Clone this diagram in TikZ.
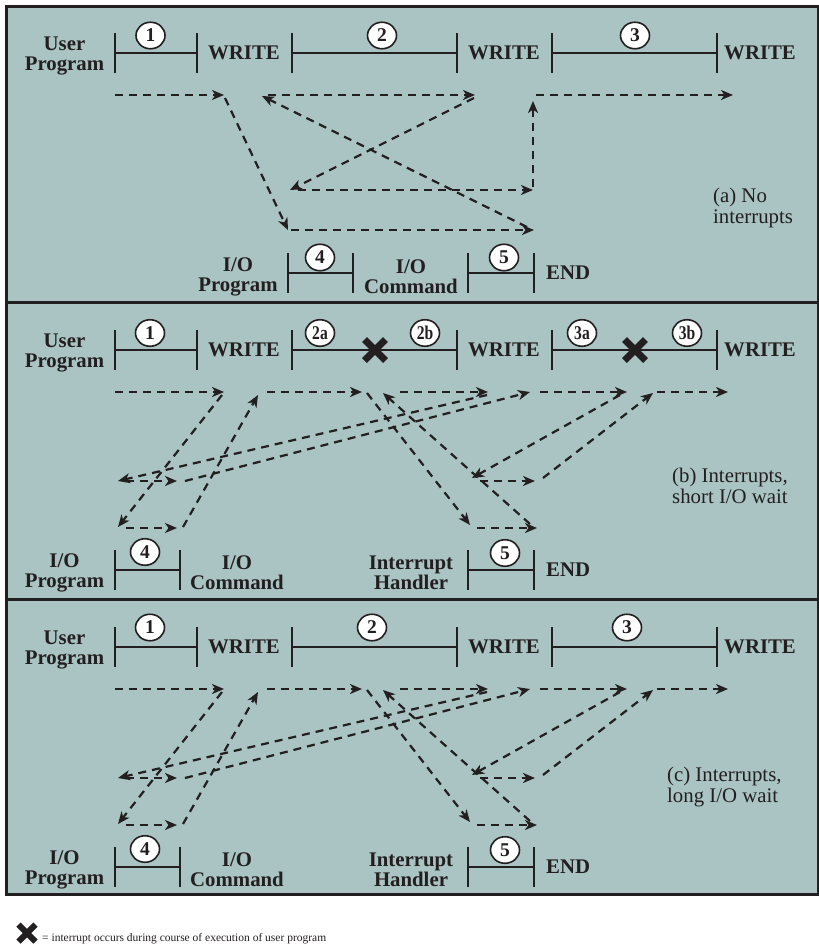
\documentclass[tikz,border=0pt]{standalone}
\usepackage{fontspec}
\setmainfont{Liberation Serif}
\usetikzlibrary{arrows.meta,shapes.geometric}

\definecolor{panelbg}{RGB}{169,196,194}
\definecolor{ink}{RGB}{35,31,32}

% bracketed time segment |----| : from x=#1 to x=#2 on the line y=#3
\newcommand\tlseg[3]{\draw[tl] (#1,#3-20) -- (#1,#3+20) (#1,#3) -- (#2,#3) (#2,#3-20) -- (#2,#3+20);}
% interrupt mark: centre (#1,#2), half size #3, stroke #4
\newcommand\intrmark[4]{\draw[xmark, line width=#4] (#1-#3,#2-#3) -- (#1+#3,#2+#3) (#1-#3,#2+#3) -- (#1+#3,#2-#3);}

\tikzset{
  frame/.style={draw=ink, line width=3pt},
  tl/.style={draw=ink, line width=2.3pt},
  flow/.style={draw=ink, line width=2.2pt, dash pattern=on 8pt off 6pt,
    -{Stealth[length=12pt,width=10pt,inset=3.5pt]}},
  lbl/.style={font=\bfseries\fontsize{20.8}{20}\selectfont, text=ink, align=center, inner sep=0pt},
  caption/.style={font=\fontsize{20.8}{21}\selectfont, text=ink, align=left, inner sep=0pt, anchor=west},
  num/.style={ellipse, draw=ink, fill=white, line width=1.6pt, minimum width=29pt,
    minimum height=26.5pt, inner sep=0pt, font=\bfseries\fontsize{19.5}{19.5}\selectfont, text=ink},
  xmark/.style={draw=ink, line cap=butt},
}

% control flow shared by the two interrupt-driven schedules
\newcommand\interruptflow{%
  \coordinate (s1) at (115,42);   \coordinate (e1) at (224,42);
  \coordinate (s2) at (222,45);   \coordinate (e2) at (118,177);
  \coordinate (s3) at (126,178);  \coordinate (e3) at (177,178);
  \coordinate (s4) at (183,177);  \coordinate (e4) at (258,45);
  \coordinate (s5) at (267,42);   \coordinate (e5) at (362,42);
  \coordinate (s6) at (367,43);   \coordinate (e6) at (470,175);
  \coordinate (s7) at (477,178);  \coordinate (e7) at (537,178);
  \coordinate (s8) at (530,174);  \coordinate (e8) at (383,43);
  \coordinate (s9) at (400,42);   \coordinate (e9) at (488,42);
  \coordinate (s10) at (487,45);  \coordinate (e10) at (118,131);
  \coordinate (s11) at (126,131); \coordinate (e11) at (177,131);
  \coordinate (s12) at (185,131); \coordinate (e12) at (530,42);
  \coordinate (s13) at (540,42);  \coordinate (e13) at (627,42);
  \coordinate (s14) at (620,45);  \coordinate (e14) at (472,128);
  \coordinate (s15) at (480,131); \coordinate (e15) at (535,131);
  \coordinate (s16) at (543,128); \coordinate (e16) at (653,43);
  \coordinate (s17) at (657,42);  \coordinate (e17) at (728,42);
  \foreach \k in {1,...,17} \draw[flow] (s\k) -- (e\k);
  % user program line
  \tlseg{115}{197}{0} \tlseg{292}{457}{0} \tlseg{552}{717}{0}
  \node[lbl] (user) at (64.5,3) {User\\Program};
  \node[lbl] (w1) at (244,0) {WRITE};
  \node[lbl] (w2) at (504,0) {WRITE};
  \node[lbl, anchor=west] (w3) at (724,0) {WRITE};
  % I/O program and interrupt handler line
  \tlseg{115}{180}{220} \tlseg{468}{534}{220}
  \node[lbl] (iop) at (64.5,223) {I/O\\Program};
  \node[lbl] (ioc) at (237,223) {I/O\\Command};
  \node[lbl] (ih) at (411,223) {Interrupt\\Handler};
  \node[lbl, anchor=west] (end) at (546,220) {END};
  \node[num] (n4) at (145,202) {4};
  \node[num] (n5) at (505,203) {5};
}

\begin{document}
\begin{tikzpicture}[x=1pt,y=-1pt]
\useasboundingbox (0,0) rectangle (819,946);
\fill[panelbg] (6.5,6.5) rectangle (818.5,894.5);
\draw[frame] (6.5,302) -- (818.5,302);
\draw[frame] (6.5,599) -- (818.5,599);
\draw[frame] (6.5,6.5) rectangle (818.5,894.5);

% (a) no interrupts
\begin{scope}[shift={(0,53)}, name prefix=a-]
  \coordinate (s1) at (115,42);  \coordinate (e1) at (224,42);
  \coordinate (s2) at (225,45);  \coordinate (e2) at (288,177);
  \coordinate (s3) at (291,177); \coordinate (e3) at (534,177);
  \coordinate (s4) at (527,174); \coordinate (e4) at (262,43);
  \coordinate (s5) at (268,42);  \coordinate (e5) at (475,42);
  \coordinate (s6) at (474,45);  \coordinate (e6) at (290,137);
  \coordinate (s7) at (298,137); \coordinate (e7) at (533,137);
  \coordinate (s8) at (533,134); \coordinate (e8) at (533,48);
  \coordinate (s9) at (536,42);  \coordinate (e9) at (733,42);
  \foreach \k in {1,...,9} \draw[flow] (s\k) -- (e\k);
  \tlseg{115}{197}{0} \tlseg{292}{457}{0} \tlseg{552}{717}{0}
  \node[lbl] (user) at (64.5,3) {User\\Program};
  \node[lbl] (w1) at (244,0) {WRITE};
  \node[lbl] (w2) at (504,0) {WRITE};
  \node[lbl, anchor=west] (w3) at (724,0) {WRITE};
  \node[num] (n1) at (150.5,-17.5) {1};
  \node[num] (n2) at (382,-17.5) {2};
  \node[num] (n3) at (635,-17.5) {3};
  \tlseg{288}{353}{220} \tlseg{468}{534}{220}
  \node[lbl] (iop) at (238,223.5) {I/O\\Program};
  \node[lbl] (ioc) at (411,223.5) {I/O\\Command};
  \node[lbl, anchor=west] (end) at (546,220) {END};
  \node[num] (n4) at (320,204.5) {4};
  \node[num] (n5) at (504,204.5) {5};
  \node[caption] (cap) at (713,154.7) {(a) No\\interrupts};
\end{scope}

% (b) interrupts, short I/O wait
\begin{scope}[shift={(0,350)}, name prefix=b-]
  \interruptflow
  \intrmark{375}{0}{10.5}{7pt}
  \intrmark{635}{0}{10.5}{7pt}
  \node[num] (n1) at (150,-17) {1};
  \node[num] (n2a) at (320,-17) {\scalebox{0.8}[1]{2a}};
  \node[num] (n2b) at (425,-17) {\scalebox{0.8}[1]{2b}};
  \node[num] (n3a) at (582,-17) {\scalebox{0.8}[1]{3a}};
  \node[num] (n3b) at (687,-17) {\scalebox{0.8}[1]{3b}};
  \node[caption] (cap) at (672,135.6) {(b) Interrupts,\\short I/O wait};
\end{scope}

% (c) interrupts, long I/O wait
\begin{scope}[shift={(0,647)}, name prefix=c-]
  \interruptflow
  \node[num] (n1) at (150,-19.5) {1};
  \node[num] (n2) at (372,-19.5) {2};
  \node[num] (n3) at (627,-19.5) {3};
  \node[caption] (cap) at (667,139.7) {(c) Interrupts,\\long I/O wait};
\end{scope}

% key
\intrmark{27}{933}{8.5}{6pt}
\node[anchor=base west, inner sep=0pt, text=ink, font=\fontsize{11.5}{12}\selectfont]
  (key) at (42,941) {= interrupt occurs during course of execution of user program};
\end{tikzpicture}
\end{document}
